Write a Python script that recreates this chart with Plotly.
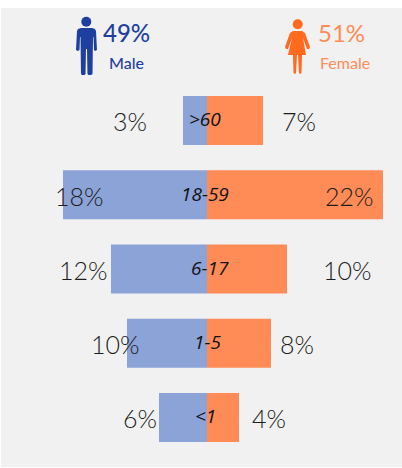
import plotly.graph_objects as go

W, H = 402, 468
ML, MT, MR, MB = 1, 8, 0, 1
categories = ["<1", "1-5", "6-17", "18-59", ">60"]
male = [6, 10, 12, 18, 3]
female = [4, 8, 10, 22, 7]
male_label_pos = [-8.4, -11.4, -15.4, -15.9, -9.6]
female_label_pos = [7.75, 11.25, 17.6, 17.75, 11.5]
category_label_pos = [-0.15, 0.0, 0.35, -0.25, -0.2]
BLUE, ORANGE = "#8ba3d6", "#ff8c57"
DARK_BLUE, DEEP_ORANGE, LIGHT_ORANGE = "#1f3f9e", "#ff6a1f", "#ff8c57"
FONT = "Lato"
TXT = "#1c1c1c"

def fx(x):
    return (x - ML) / (W - ML - MR)

def fy(y):
    return 1 - (y - MT) / (H - MT - MB)

def path(pts):
    return "M" + " L".join(f"{fx(x):.5f} {fy(y):.5f}" for x, y in pts) + " Z"

def circle(cx, cy, r, color):
    return dict(type="circle", xref="paper", yref="paper", x0=fx(cx-r), x1=fx(cx+r),
                y0=fy(cy+r), y1=fy(cy-r), fillcolor=color, line_width=0, layer="above")

male_body = [(81,28),(92,28),(95,29),(96,31),(97,50),(95,51),(94,50),(93.5,37),(93,37),(92.5,74),(91,75),(88.5,75),(87.5,74),(87,49),(86,49),(85.5,74),(84.5,75),(82,75),(81,74),(80.5,37),(80,37),(79.5,50),(78,51),(76,50),(77,31),(78,29)]
female_body = [(293,31),(302,31),(305,33),(310,47),(309,49),(307,49),(303,38),(306,55),(302,55),(301.5,73),(300,74),(299,73),(298,55),(297,55),(296,73),(295,74),(293.5,73),(293,55),(288,55),(292,38),(288,49),(286,49),(285,47),(290,33)]

shapes = [
    circle(86.3, 21.7, 5, DARK_BLUE),
    dict(type="path", xref="paper", yref="paper", path=path(male_body), fillcolor=DARK_BLUE, line_width=0, layer="above"),
    circle(297.7, 24.3, 5, DEEP_ORANGE),
    dict(type="path", xref="paper", yref="paper", path=path(female_body), fillcolor=DEEP_ORANGE, line_width=0, layer="above"),
]

fig = go.Figure()
fig.add_bar(y=categories, x=[-v for v in male], orientation="h", marker=dict(color=BLUE, line_width=0), name="Male")
fig.add_bar(y=categories, x=female, orientation="h", marker=dict(color=ORANGE, line_width=0), name="Female")

ann = []
for c, mp, fp, cp, m, f in zip(categories, male_label_pos, female_label_pos, category_label_pos, male, female):
    for xp, v in ((mp, m), (fp, f)):
        ann.append(dict(x=xp, y=c, xref="x", yref="y", text=f"{v}%", showarrow=False, yshift=-1,
                        font=dict(family=FONT, size=25, color=TXT, weight=300)))
    ann.append(dict(x=cp, y=c, xref="x", yref="y", text=c.replace('<','&lt;').replace('>','&gt;'), showarrow=False, yshift=1,
                    font=dict(family="Open Sans", size=19, color="#111111", style="italic", weight=500)))

def head(text, x, y, size, color, weight=500):
    ann.append(dict(x=fx(x), y=fy(y), xref="paper", yref="paper", text=text, showarrow=False,
                    xanchor="center", yanchor="middle",
                    font=dict(family=FONT, size=size, color=color, weight=weight)))
head("49%", 126, 33, 24, DARK_BLUE)
head("Male", 126.5, 62, 16, DARK_BLUE)
head("51%", 341, 33, 24, LIGHT_ORANGE, 400)
head("Female", 345, 62, 16, LIGHT_ORANGE, 400)

fig.update_layout(
    width=W, height=H, barmode="relative", bargap=0.34, showlegend=False,
    paper_bgcolor="white", plot_bgcolor="#f1f1f1",
    margin=dict(l=ML, r=MR, t=MT, b=MB, pad=0),
    xaxis=dict(range=[-206/8, 195/8], visible=False, fixedrange=True),
    yaxis=dict(range=[-0.667, 5.515], visible=False, fixedrange=True),
    annotations=ann, shapes=shapes,
)
fig.write_html("out.html", config=dict(displayModeBar=False),
               post_script="document.body.style.margin='0';")
